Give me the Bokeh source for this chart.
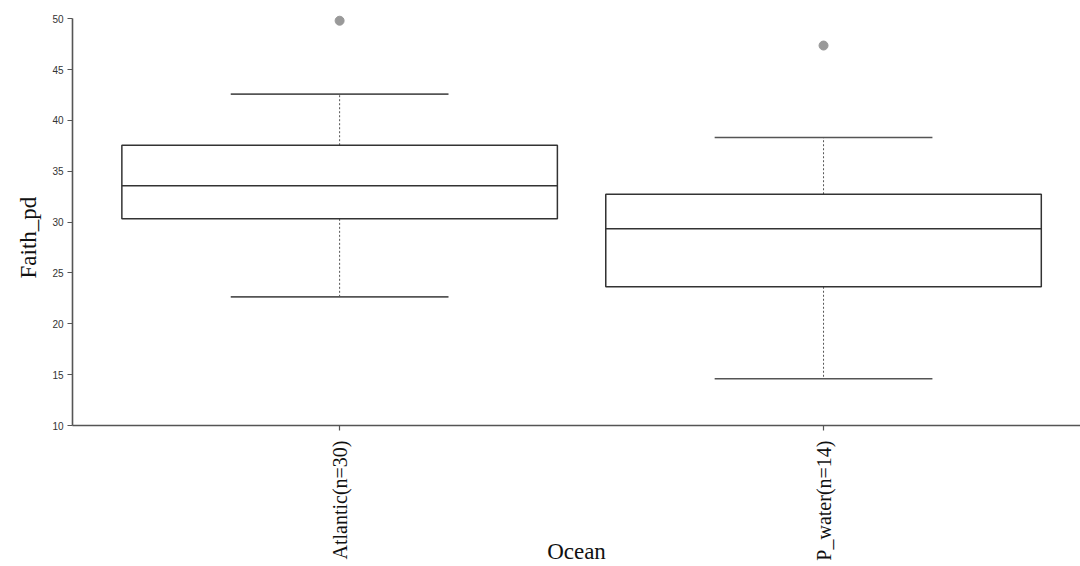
from bokeh.plotting import figure
from bokeh.models import Range1d, FixedTicker, Title
from bokeh.embed import file_html
from bokeh.resources import INLINE
from math import pi

# ---- data ----
categories = ["Atlantic(n=30)", "P_water(n=14)"]
q1 = [30.32, 23.64]
median = [33.57, 29.34]
q3 = [37.56, 32.74]
lower_whisker = [22.65, 14.59]
upper_whisker = [42.58, 38.32]
outlier_group = [0, 1]
outlier_value = [49.8, 47.36]
y_ticks = [10, 15, 20, 25, 30, 35, 40, 45, 50]

xpos = list(range(len(categories)))
box_w = 0.9
cap_w = 0.45

p = figure(width=1080, height=566, output_backend="svg", toolbar_location=None,
           x_range=Range1d(-0.552, 1.531), y_range=Range1d(10, 50.51),
           min_border_left=72, min_border_right=0, min_border_top=13, min_border_bottom=141)
p.outline_line_color = None
p.xgrid.visible = False
p.ygrid.visible = False
p.background_fill_color = "white"
p.border_fill_color = "white"

# stems (dotted)
p.segment(x0=xpos, y0=q3, x1=xpos, y1=upper_whisker, line_color="#555555",
          line_width=1, line_dash="2 2")
p.segment(x0=xpos, y0=q1, x1=xpos, y1=lower_whisker, line_color="#555555",
          line_width=1, line_dash="2 2")
# caps
p.segment(x0=[x - cap_w / 2 for x in xpos], y0=upper_whisker,
          x1=[x + cap_w / 2 for x in xpos], y1=upper_whisker,
          line_color="#555555", line_width=1.6)
p.segment(x0=[x - cap_w / 2 for x in xpos], y0=lower_whisker,
          x1=[x + cap_w / 2 for x in xpos], y1=lower_whisker,
          line_color="#555555", line_width=1.6)
# boxes
p.vbar(x=xpos, width=box_w, bottom=q1, top=q3, fill_color="white",
       line_color="#333333", line_width=1.5)
# medians
p.segment(x0=[x - box_w / 2 for x in xpos], y0=median,
          x1=[x + box_w / 2 for x in xpos], y1=median,
          line_color="#333333", line_width=1.5)
# outliers
p.scatter(x=outlier_group, y=outlier_value, size=9, fill_color="#999999",
          line_color="#999999")

# axes
for ax in (p.xaxis[0], p.yaxis[0]):
    ax.axis_line_color = "#555555"
    ax.axis_line_width = 1.6
    ax.major_tick_line_color = "#555555"
    ax.major_tick_line_width = 1.2
    ax.major_tick_out = 5
    ax.major_tick_in = 0
    ax.minor_tick_line_color = None

p.yaxis.ticker = FixedTicker(ticks=y_ticks)
p.yaxis.bounds = (10, 50)
p.yaxis.major_label_text_font = "Liberation Sans"
p.yaxis.major_label_text_font_size = "10px"
p.yaxis.major_label_text_color = "#333333"
p.yaxis.major_label_standoff = 4

p.xaxis.ticker = FixedTicker(ticks=xpos)
p.xaxis.major_label_overrides = {i: c for i, c in zip(xpos, categories)}
p.xaxis.major_label_orientation = pi / 2
p.xaxis.major_label_text_font = "Liberation Serif"
p.xaxis.major_label_text_font_size = "20px"
p.xaxis.major_label_text_color = "#111111"
p.xaxis.major_label_standoff = 10

# x axis title
p.xaxis.axis_label = "Ocean"
p.xaxis.axis_label_text_font = "Liberation Serif"
p.xaxis.axis_label_text_font_size = "23px"
p.xaxis.axis_label_text_font_style = "normal"
p.xaxis.axis_label_text_color = "#111111"
p.xaxis.axis_label_standoff = -25

# y axis title
p.add_layout(Title(text="Faith_pd", align="left", offset=147, standoff=17,
                   text_font="Liberation Serif", text_font_size="23px",
                   text_font_style="normal", text_color="#111111"), "left")

open("out.html", "w").write(file_html(p, INLINE))
